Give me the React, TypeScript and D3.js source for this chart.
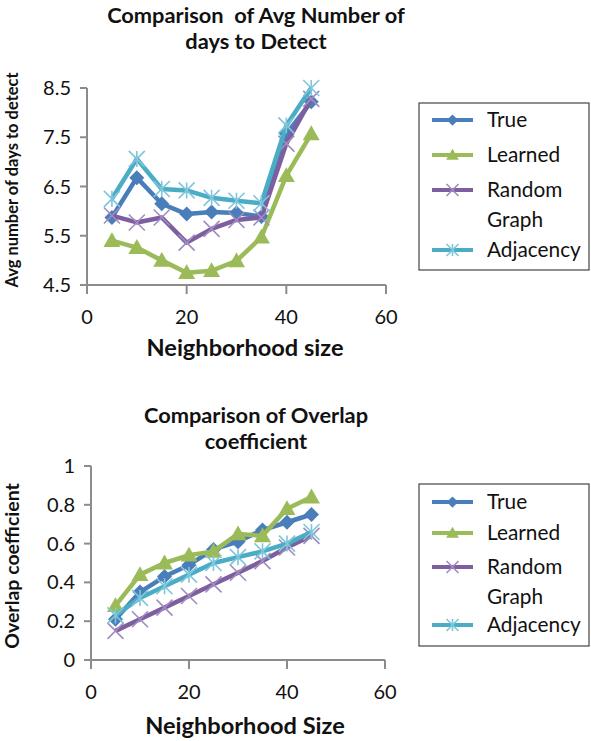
import React from "react";
import * as d3 from "d3";

const xs = [5, 10, 15, 20, 25, 30, 35, 40, 45];
const seriesNames = ["True", "Learned", "Random Graph", "Adjacency"];
const daysTrue = [5.87, 6.68, 6.15, 5.94, 5.98, 5.96, 5.89, 7.57, 8.22];
const daysLearned = [5.4, 5.26, 5.0, 4.75, 4.79, 4.99, 5.47, 6.72, 7.57];
const daysRandom = [5.91, 5.77, 5.87, 5.36, 5.64, 5.82, 5.87, 7.37, 8.28];
const daysAdj = [6.25, 7.06, 6.45, 6.42, 6.27, 6.21, 6.16, 7.74, 8.5];
const ovTrue = [0.21, 0.35, 0.43, 0.49, 0.57, 0.61, 0.67, 0.71, 0.75];
const ovLearned = [0.28, 0.44, 0.5, 0.54, 0.56, 0.65, 0.64, 0.78, 0.84];
const ovRandom = [0.15, 0.21, 0.27, 0.33, 0.39, 0.45, 0.51, 0.58, 0.64];
const ovAdj = [0.23, 0.32, 0.38, 0.44, 0.5, 0.53, 0.56, 0.6, 0.66];
const xTicks = [0, 20, 40, 60];
const daysTicks = [4.5, 5.5, 6.5, 7.5, 8.5];
const ovTicks = [0, 0.2, 0.4, 0.6, 0.8, 1];

const colors = ["#4A7EBB", "#9BBB59", "#7D5FA0", "#4BACC6"];
const markerColors = ["#4A7EBB", "#9BBB59", "#A08CC0", "#7FC6DA"];
const FONT = "Lato, 'Open Sans', sans-serif";

function Marker({ kind, x, y, k = 1 }: { kind: number; x: number; y: number; k?: number }) {
  if (kind === 0) {
    const s = 7.5 * k;
    return <path d={`M${x},${y - s}L${x + s},${y}L${x},${y + s}L${x - s},${y}Z`} fill={markerColors[0]} />;
  }
  if (kind === 1) {
    const s = 8.5 * k;
    return <path d={`M${x},${y - s}L${x + s},${y + s * 0.75}L${x - s},${y + s * 0.75}Z`} fill={markerColors[1]} />;
  }
  if (kind === 2) {
    const s = 8 * k;
    return (
      <path d={`M${x - s},${y - s}L${x + s},${y + s}M${x - s},${y + s}L${x + s},${y - s}`} stroke={markerColors[2]} strokeWidth={1.6} />
    );
  }
  const s = 8 * k;
  return (
    <path
      d={`M${x - s},${y - s}L${x + s},${y + s}M${x - s},${y + s}L${x + s},${y - s}M${x},${y - s}L${x},${y + s}`}
      stroke={markerColors[3]}
      strokeWidth={1.6}
    />
  );
}

function Chart({
  x0, x1, y0, y1, yDomain, yTicks, yFmt, series, title, titleY, yTitle, yTitleSize, yTitleX, yTitleY, xTitle, xTitleY, legendBox,
}: any) {
  const xScale = d3.scaleLinear().domain([0, 60]).range([x0, x1]);
  const yScale = d3.scaleLinear().domain(yDomain).range([y1, y0]);
  const line = d3.line<number>().x((_, i) => xScale(xs[i])).y((d) => yScale(d));
  const axisColor = "#8C8C8C";
  return (
    <g>
      {title.map((t: string, i: number) => (
        <text key={i} x={256} y={titleY[i]} textAnchor="middle" fontFamily={FONT} fontWeight="bold" fontSize={21.8} fill="#111" style={{ whiteSpace: "pre" }}>
          {t}
        </text>
      ))}
      <line x1={x0} x2={x0} y1={y0} y2={y1} stroke={axisColor} strokeWidth={2} />
      <line x1={x0} x2={x1} y1={y1} y2={y1} stroke={axisColor} strokeWidth={2} />
      {yTicks.map((t: number) => (
        <g key={t}>
          <line x1={x0 - 7} x2={x0} y1={yScale(t)} y2={yScale(t)} stroke={axisColor} strokeWidth={2} />
          <text x={x0 - 16} y={yScale(t) + 7} textAnchor="end" fontFamily={FONT} fontSize={20} fill="#111">
            {yFmt(t)}
          </text>
        </g>
      ))}
      {xTicks.map((t) => (
        <g key={t}>
          <line x1={xScale(t)} x2={xScale(t)} y1={y1} y2={y1 + 9} stroke={axisColor} strokeWidth={2} />
          <text x={xScale(t)} y={y1 + 39} textAnchor="middle" fontFamily={FONT} fontSize={20} fill="#111">
            {t}
          </text>
        </g>
      ))}
      <text x={245} y={xTitleY} textAnchor="middle" fontFamily={FONT} fontWeight="bold" fontSize={23.6} fill="#111">
        {xTitle}
      </text>
      <text
        transform={`translate(${yTitleX},${yTitleY}) rotate(-90)`}
        textAnchor="middle"
        fontFamily={FONT}
        fontWeight="bold"
        fontSize={yTitleSize}
        fill="#111"
      >
        {yTitle}
      </text>
      {series.map((vals: number[], si: number) => (
        <g key={si}>
          <path d={line(vals) || ""} fill="none" stroke={colors[si]} strokeWidth={4.5} strokeLinejoin="round" />
          {vals.map((v, i) => (
            <Marker key={i} kind={si} x={xScale(xs[i])} y={yScale(v)} />
          ))}
        </g>
      ))}
      <rect x={legendBox.x} y={legendBox.y} width={legendBox.w} height={legendBox.h} fill="#fff" stroke="#444" strokeWidth={1.2} />
      {legendBox.rows.map((ry: number, si: number) => (
        <g key={si}>
          <line x1={432} x2={473} y1={ry} y2={ry} stroke={colors[si]} strokeWidth={4} />
          <Marker kind={si} x={452.5} y={ry} k={0.75} />
          {si === 2 ? (
            <>
              <text x={487} y={ry + 7} fontFamily={FONT} fontSize={20.8} fill="#111">Random</text>
              <text x={487} y={ry + 37} fontFamily={FONT} fontSize={20.8} fill="#111">Graph</text>
            </>
          ) : (
            <text x={487} y={ry + 7} fontFamily={FONT} fontSize={20.8} fill="#111">{seriesNames[si]}</text>
          )}
        </g>
      ))}
    </g>
  );
}

export default function App() {
  return (
    <svg width={591} height={741} style={{ position: "absolute", left: 0, top: 0, background: "#fff" }}>
      <rect width={591} height={741} fill="#fff" />
      <Chart
        x0={87}
        x1={386}
        y0={88}
        y1={285}
        yDomain={[4.5, 8.5]}
        yTicks={daysTicks}
        yFmt={(t: number) => t.toFixed(1)}
        series={[daysTrue, daysLearned, daysRandom, daysAdj]}
        title={["Comparison  of Avg Number of", "days to Detect"]}
        titleY={[23, 49]}
        yTitle="Avg number of days to detect"
        yTitleSize={16.5}
        yTitleX={18}
        yTitleY={180}
        xTitle="Neighborhood size"
        xTitleY={356}
        legendBox={{ x: 419, y: 103, w: 170, h: 167, rows: [120, 155, 190, 250] }}
      />
      <Chart
        x0={91}
        x1={385}
        y0={466}
        y1={660}
        yDomain={[0, 1]}
        yTicks={ovTicks}
        yFmt={(t: number) => (t === 0 || t === 1 ? String(t) : t.toFixed(1))}
        series={[ovTrue, ovLearned, ovRandom, ovAdj]}
        title={["Comparison of Overlap", "coefficient"]}
        titleY={[423, 449]}
        yTitle="Overlap coefficient"
        yTitleSize={19.5}
        yTitleX={19}
        yTitleY={566}
        xTitle="Neighborhood Size"
        xTitleY={734}
        legendBox={{ x: 419, y: 484, w: 170, h: 162, rows: [502, 533, 567, 625] }}
      />
    </svg>
  );
}
